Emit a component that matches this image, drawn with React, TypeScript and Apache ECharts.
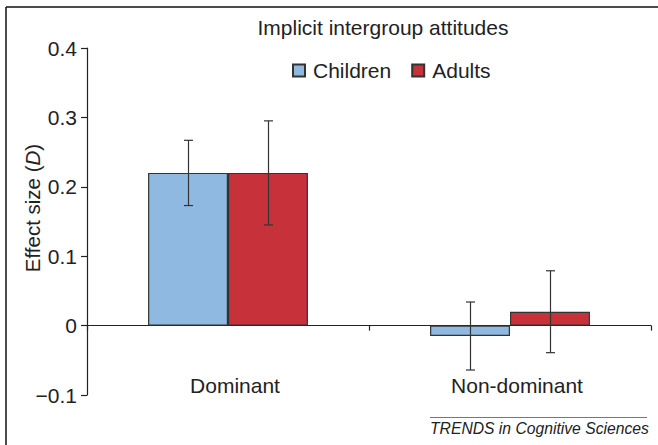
import React, { useEffect, useRef } from "react";
import * as echarts from "echarts";

const categories = ["Dominant", "Non-dominant"];
const seriesNames = ["Children", "Adults"];
const childrenValues = [0.22, -0.015];
const adultsValues = [0.22, 0.02];
const childrenUpper = [0.267, 0.034];
const childrenLower = [0.173, -0.064];
const adultsUpper = [0.295, 0.079];
const adultsLower = [0.145, -0.039];

const FONT = "'Liberation Sans', Arial, Helvetica, sans-serif";
const CAT_GAP = 0.433;

function errorSeries(name: string, seriesIdx: number, lower: number[], upper: number[]) {
  const data = categories.map((_, i) => [i, lower[i], upper[i]]);
  return {
    type: "custom",
    name: name + " error",
    z: 10,
    silent: true,
    data,
    encode: { x: 0, y: [1, 2] },
    renderItem: (params: any, api: any) => {
      const idx = api.value(0);
      const lo = api.coord([idx, api.value(1)]);
      const hi = api.coord([idx, api.value(2)]);
      const band = api.size([1, 0])[0];
      const barW = (band * (1 - CAT_GAP)) / 2;
      const off = seriesIdx === 0 ? -barW / 2 : barW / 2;
      const x = Math.round(lo[0] + off) + 0.5;
      const cap = 4.5;
      const style = { stroke: "#333", lineWidth: 1.2 };
      return {
        type: "group",
        children: [
          { type: "line", shape: { x1: x, y1: hi[1], x2: x, y2: lo[1] }, style },
          { type: "line", shape: { x1: x - cap, y1: hi[1], x2: x + cap, y2: hi[1] }, style },
          { type: "line", shape: { x1: x - cap, y1: lo[1], x2: x + cap, y2: lo[1] }, style },
        ],
      };
    },
  };
}

export default function App() {
  const ref = useRef<HTMLDivElement>(null);
  useEffect(() => {
    if (!ref.current) return;
    const chart = echarts.init(ref.current, null, { renderer: "svg" });
    chart.setOption({
      animation: false,
      backgroundColor: "#fff",
      textStyle: { fontFamily: FONT },
      title: {
        text: "Implicit intergroup attitudes",
        left: 378,
        top: 12,
        textAlign: "center",
        textStyle: { fontFamily: FONT, fontSize: 21, fontWeight: "normal", color: "#222" },
      },
      legend: {
        data: seriesNames,
        left: 287,
        top: 55,
        itemWidth: 12,
        itemHeight: 12,
        itemGap: 20,
        icon: "rect",
        textStyle: { fontFamily: FONT, fontSize: 21, color: "#222", padding: [0, 0, 0, 3] },
      },
      grid: { left: 87, right: 7, top: 48, bottom: 50, containLabel: false, outerBoundsMode: "none" },
      xAxis: {
        type: "category",
        data: categories,
        axisLine: { onZero: true, lineStyle: { color: "#222", width: 1.2 } },
        axisTick: { show: true, length: 5, lineStyle: { color: "#222", width: 1.2 } },
        axisLabel: {
          margin: -20,
          fontSize: 21,
          color: "#222",
          fontFamily: FONT,
          padding: [0, 0, 0, 14],
        },
        splitLine: { show: false },
      },
      yAxis: {
        type: "value",
        min: -0.1,
        max: 0.4,
        interval: 0.1,
        axisLine: { show: true, lineStyle: { color: "#222", width: 1.2 } },
        axisTick: { show: true, length: 6, lineStyle: { color: "#222", width: 1.2 } },
        splitLine: { show: false },
        axisLabel: {
          margin: 10,
          fontSize: 21,
          color: "#222",
          fontFamily: FONT,
          formatter: (v: number) => {
            const r = Math.round(v * 10) / 10;
            if (Math.abs(r) < 1e-9) return "0";
            return r < 0 ? "\u2212" + Math.abs(r).toFixed(1) : r.toFixed(1);
          },
        },
      },
      series: [
        {
          name: seriesNames[0],
          type: "bar",
          data: childrenValues,
          barGap: "0%",
          barCategoryGap: (CAT_GAP * 100).toFixed(1) + "%",
          itemStyle: { color: "#8FB9E1", borderColor: "#333", borderWidth: 1.2 },
        },
        {
          name: seriesNames[1],
          type: "bar",
          data: adultsValues,
          barGap: "0%",
          barCategoryGap: (CAT_GAP * 100).toFixed(1) + "%",
          itemStyle: { color: "#C7313A", borderColor: "#333", borderWidth: 1.2 },
        },
        errorSeries(seriesNames[0], 0, childrenLower, childrenUpper),
        errorSeries(seriesNames[1], 1, adultsLower, adultsUpper),
      ],
      graphic: [
        { type: "line", shape: { x1: 6, y1: 7, x2: 658, y2: 7 }, style: { stroke: "#111", lineWidth: 1.5 } },
        { type: "line", shape: { x1: 6, y1: 7, x2: 6, y2: 445 }, style: { stroke: "#111", lineWidth: 1.5 } },
        {
          type: "text",
          x: 32,
          y: 208,
          rotation: Math.PI / 2,
          style: {
            text: "{n|Effect size (}{i|D}{n|)}",
            align: "center",
            verticalAlign: "middle",
            rich: {
              n: { fontFamily: FONT, fontSize: 20.5, fill: "#222" },
              i: { fontFamily: FONT, fontSize: 20.5, fontStyle: "italic", fill: "#222" },
            },
          },
        },
        { type: "line", shape: { x1: 430, y1: 417.5, x2: 647, y2: 417.5 }, style: { stroke: "#777", lineWidth: 1 } },
        {
          type: "text",
          x: 430,
          y: 428,
          style: {
            text: "TRENDS in Cognitive Sciences",
            fontFamily: FONT,
            fontSize: 15.7,
            fontStyle: "italic",
            fill: "#222",
            align: "left",
            verticalAlign: "middle",
          },
        },
      ],
    });
    return () => chart.dispose();
  }, []);
  return (
    <div
      ref={ref}
      style={{ position: "absolute", left: 0, top: 0, width: 658, height: 445 }}
    />
  );
}
